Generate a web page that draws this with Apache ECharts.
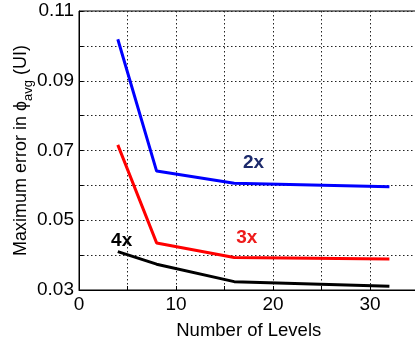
<!DOCTYPE html>
<html>
<head>
<meta charset="utf-8">
<script src="https://cdn.jsdelivr.net/npm/echarts@6/dist/echarts.min.js"></script>
<style>
html,body{margin:0;padding:0;background:#fff;}
#chart{width:415px;height:343px;}
</style>
</head>
<body>
<div id="chart"></div>
<script>
var levels = [4, 8, 16, 32];
var err2x = [0.1019, 0.0641, 0.0606, 0.0596];
var err3x = [0.0716, 0.0435, 0.0393, 0.0389];
var err4x = [0.0410, 0.0374, 0.0324, 0.0311];
var annotationNames = ['2x', '3x', '4x'];
var annotationX = [18.0, 17.3, 4.4];
var annotationY = [0.0664, 0.0449, 0.0440];
var annotationColors = ['#1c2a6b', '#ee1c1c', '#000000'];
var xTickLabels = [0, 10, 20, 30];
var yTickLabels = [0.03, 0.05, 0.07, 0.09, 0.11];

function pairs(xs, ys) { return xs.map(function (x, i) { return [x, ys[i]]; }); }

var FONT = 'Liberation Sans, Arial, sans-serif';
var chart = echarts.init(document.getElementById('chart'), null, {renderer: 'canvas'});

var annotData = annotationNames.map(function (n, i) {
  return {
    value: [annotationX[i], annotationY[i]],
    name: n,
    label: {color: annotationColors[i]}
  };
});

chart.setOption({
  animation: false,
  backgroundColor: '#fff',
  grid: {left: 79, top: 11, width: 339.5, height: 279, show: true, borderColor: '#000', borderWidth: 1,
         backgroundColor: 'transparent', containLabel: false, outerBoundsMode: 'none'},
  xAxis: {
    type: 'value', min: 0, max: 35, interval: 5,
    name: 'Number of Levels', nameLocation: 'middle', nameGap: 31, nameMoveOverlap: false,
    nameTextStyle: {fontFamily: FONT, fontSize: 18.5, color: '#000'},
    axisLine: {show: true, onZero: false, lineStyle: {color: '#000', width: 1}},
    axisTick: {show: true, inside: true, length: 4, lineStyle: {color: '#000'}},
    axisLabel: {
      fontFamily: FONT, fontSize: 19, color: '#000', margin: 5,
      formatter: function (v) { return xTickLabels.indexOf(v) >= 0 ? String(v) : ''; }
    },
    splitLine: {show: true, lineStyle: {color: '#222', width: 1, type: [1.5, 2.5]}}
  },
  yAxis: {
    type: 'value', min: 0.03, max: 0.11, interval: 0.01,
    name: '{m|Maximum error in ϕ}{s|avg}{m| (UI)}', nameLocation: 'middle', nameGap: 49, nameRotate: 90,
    nameMoveOverlap: false,
    nameTextStyle: {
      fontFamily: FONT, color: '#000',
      rich: {
        m: {fontFamily: FONT, fontSize: 18, color: '#000', lineHeight: 22, verticalAlign: 'bottom'},
        s: {fontFamily: FONT, fontSize: 13, color: '#000', lineHeight: 22, verticalAlign: 'bottom', padding: [0, 0, -5, 0]}
      }
    },
    axisLine: {show: true, onZero: false, lineStyle: {color: '#000', width: 1}},
    axisTick: {show: true, inside: true, length: 4, lineStyle: {color: '#000'}},
    axisLabel: {
      fontFamily: FONT, fontSize: 19, color: '#000', margin: 5,
      formatter: function (v) {
        for (var i = 0; i < yTickLabels.length; i++) {
          if (Math.abs(yTickLabels[i] - v) < 1e-6) return String(yTickLabels[i]);
        }
        return '';
      }
    },
    splitLine: {show: true, lineStyle: {color: '#222', width: 1, type: [1.5, 2.5]}}
  },
  series: [
    {type: 'line', data: pairs(levels, err2x), symbol: 'none', lineStyle: {color: '#0000ff', width: 3}, z: 3},
    {type: 'line', data: pairs(levels, err3x), symbol: 'none', lineStyle: {color: '#ff0000', width: 3}, z: 3},
    {type: 'line', data: pairs(levels, err4x), symbol: 'none', lineStyle: {color: '#000000', width: 3}, z: 3},
    {
      type: 'scatter', data: annotData, symbolSize: 0, z: 4,
      itemStyle: {opacity: 1},
      label: {
        show: true, position: 'inside', formatter: '{b}', opacity: 1,
        fontFamily: FONT, fontSize: 19, fontWeight: 'bold'
      },
      emphasis: {disabled: true}
    }
  ]
});
</script>
</body>
</html>
